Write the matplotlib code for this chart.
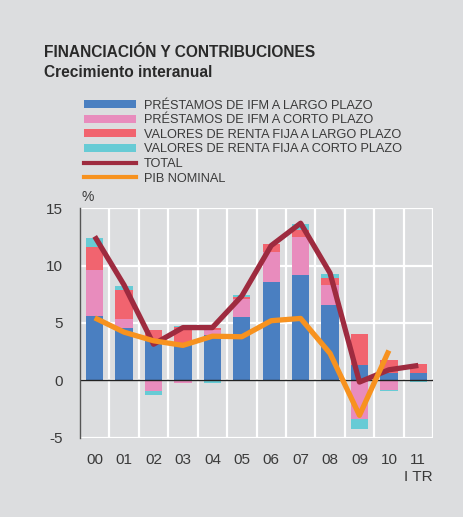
import matplotlib
matplotlib.use("Agg")
import matplotlib.pyplot as plt
import numpy as np
from matplotlib.patches import Patch
from matplotlib.lines import Line2D

# data (contributions, %)
years = ['00', '01', '02', '03', '04', '05', '06', '07', '08', '09', '10', '11']
ifm_largo = [5.6, 4.6, 3.6, 3.1, 3.95, 5.5, 8.6, 9.15, 6.55, 1.3, 0.6, 0.67]
ifm_corto = [4.05, 0.75, -0.93, -0.23, 0.45, 1.55, 2.55, 3.35, 1.75, -3.35, -0.8, 0.0]
rf_largo = [2.0, 2.55, 0.75, 1.55, 0.2, 0.25, 0.7, 0.65, 0.65, 2.7, 1.15, 0.73]
rf_corto = [0.8, 0.35, -0.35, 0.1, -0.25, 0.1, -0.1, 0.45, 0.35, -0.88, -0.12, -0.15]
total = [12.55, 8.3, 3.15, 4.6, 4.6, 7.35, 11.75, 13.7, 9.35, -0.15, 0.92, 1.3]
pib = [5.45, 4.2, 3.45, 3.05, 3.85, 3.8, 5.2, 5.4, 2.35, -3.05, 2.6]

series = [ifm_largo, ifm_corto, rf_largo, rf_corto]
labels = ['PRÉSTAMOS DE IFM A LARGO PLAZO', 'PRÉSTAMOS DE IFM A CORTO PLAZO',
          'VALORES DE RENTA FIJA A LARGO PLAZO', 'VALORES DE RENTA FIJA A CORTO PLAZO']
colors = ['#4a7fc1', '#e88cbd', '#f1646f', '#67cbd5']
c_total = '#9e2b3f'
c_pib = '#f7921f'
bg = '#dcdddf'
txt = '#3a3a3a'

plt.rcParams['font.family'] = ['Liberation Sans', 'DejaVu Sans']
plt.rcParams['axes.unicode_minus'] = False

fig = plt.figure(figsize=(4.63, 5.17), dpi=100, facecolor=bg)
ax = fig.add_axes([80/463, 1-437.7/517, 353/463, (437.7-208.3)/517])
ax.set_facecolor(bg)

x = np.arange(len(years))
pos_base = np.zeros(len(years))
neg_base = np.zeros(len(years))
for vals, col in zip(series, colors):
    v = np.array(vals)
    bottoms = np.where(v >= 0, pos_base, neg_base)
    ax.bar(x, v, bottom=bottoms, width=0.59, color=col, zorder=3)
    pos_base += np.where(v >= 0, v, 0)
    neg_base += np.where(v < 0, v, 0)

ax.plot(x, total, color=c_total, lw=3.8, solid_capstyle='butt', zorder=5)
ax.plot(x[:len(pib)], pib, color=c_pib, lw=3.8, solid_capstyle='butt', zorder=6)

ax.axhline(0, color='#222222', lw=1.0, zorder=4)

ax.set_xlim(-0.5, 11.5)
ax.set_ylim(-5, 15)
ax.set_yticks([-5, 0, 5, 10, 15])
ax.set_xticks(x)
ax.set_xticklabels(years)
ax.set_xticks(np.arange(-0.5, 12, 1), minor=True)
ax.grid(True, which='minor', axis='x', color='white', lw=1.6, zorder=1)
ax.grid(True, which='major', axis='y', color='white', lw=1.6, zorder=1)
ax.tick_params(which='both', length=0)
ax.tick_params(axis='x', pad=11, labelsize=11, labelcolor=txt)
ax.tick_params(axis='y', pad=12, labelsize=11, labelcolor=txt)
for s in ['top', 'right', 'bottom']:
    ax.spines[s].set_visible(False)
ax.spines['left'].set_color('#555555')
ax.spines['left'].set_linewidth(1.0)
ax.spines['left'].set_zorder(7)

ax.text(11, -8.4, 'I TR', ha='center', va='center', fontsize=11, color=txt)
ax.text(0.004, 1.05, '%', transform=ax.transAxes, ha='left', va='center',
        fontsize=10, color=txt)

fig.text(44/463, 1-52.7/517, 'FINANCIACIÓN Y CONTRIBUCIONES', fontsize=11.2,
         fontweight='bold', color='#2a2a2a', va='center', ha='left')
fig.text(44/463, 1-72.7/517, 'Crecimiento interanual', fontsize=11.2,
         fontweight='bold', color='#2a2a2a', va='center', ha='left')

handles = [Patch(facecolor=c, edgecolor='none') for c in colors]
handles += [Line2D([], [], color=c_total, lw=3), Line2D([], [], color=c_pib, lw=3)]
leg = fig.legend(handles, labels + ['TOTAL', 'PIB NOMINAL'], loc='upper left',
                 bbox_to_anchor=(78.5/463, 1-94.5/517), frameon=False, fontsize=9.2,
                 handlelength=4.07, handleheight=0.6, labelspacing=0.205,
                 handletextpad=0.63, borderaxespad=0)
for t in leg.get_texts():
    t.set_color(txt)

fig.savefig('out.png', dpi=100, facecolor=bg)
